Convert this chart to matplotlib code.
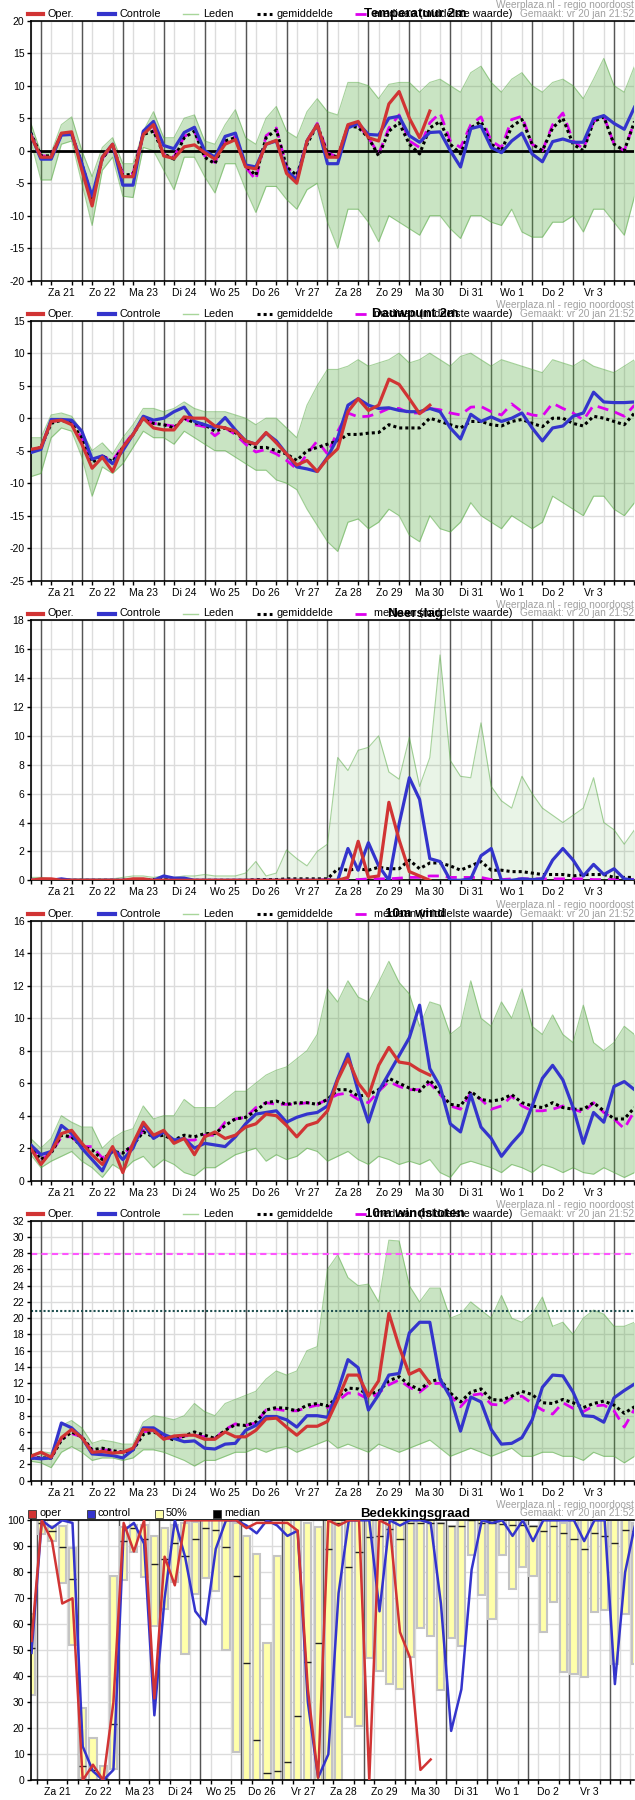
import numpy as np
import matplotlib
matplotlib.use("Agg")
import matplotlib.pyplot as plt
from matplotlib.lines import Line2D
from matplotlib.patches import Rectangle

plt.rcParams['font.family'] = ['Liberation Sans', 'DejaVu Sans']
plt.rcParams['axes.unicode_minus'] = False

W, H = 635, 1800

day_labels = ["Za 21", "Zo 22", "Ma 23", "Di 24", "Wo 25", "Do 26", "Vr 27",
              "Za 28", "Zo 29", "Ma 30", "Di 31", "Wo 1", "Do 2", "Vr 3"]

hours = np.arange(60) * 6          # 0 = vr 20 jan 18:00, step 6 uur
cloud_hours = np.arange(60) * 6 + 3

# --- Temperatuur 2m
temp_oper = [2.4, -1.0, -1.0, 2.7, 2.9, -3.0, -8.5, -1.0, 1.0, -4.0,
             -4.0, 2.5, 4.0, -0.8, -1.2, 0.6, 0.9, -0.3, -1.3, 1.0,
             1.7, -2.5, -2.8, 1.0, 1.6, -3.5, -5.0, 1.5, 4.0, -1.0,
             -1.0, 4.0, 4.5, 2.0, 1.5, 7.2, 9.1, 5.0, 2.0, 6.1]
temp_ctrl = [2.5, -1.3, -1.3, 2.4, 2.5, -2.0, -7.0, -1.0, 1.0, -5.3,
             -5.3, 3.0, 4.5, 0.8, 0.3, 2.8, 3.6, 0.0, -1.0, 2.2,
             2.7, -2.2, -2.5, 1.0, 1.5, -3.0, -4.5, 1.5, 4.0, -2.0,
             -2.0, 3.5, 4.2, 2.5, 2.4, 5.0, 5.3, 2.3, 1.3, 2.8,
             2.9, 0.0, -2.5, 3.4, 3.8, 0.5, -0.3, 1.5, 2.7, -0.5,
             -1.7, 1.4, 1.8, 1.3, 1.3, 4.9, 5.4, 4.2, 3.3, 6.7]
temp_mean = [2.8, -0.8, -0.8, 2.5, 2.5, -2.0, -7.5, -1.2, 0.8, -3.8,
             -3.6, 2.5, 3.0, -0.5, -1.3, 2.0, 3.0, -1.0, -2.0, 1.5,
             2.0, -2.3, -3.8, 2.0, 3.2, -2.5, -3.8, 1.0, 4.0, -0.5,
             -1.0, 3.8, 3.6, 2.0, -0.8, 3.0, 4.3, 1.0, -0.5, 3.5,
             4.5, 1.0, -0.5, 3.5, 4.5, 1.0, 0.0, 3.7, 4.8, 1.0,
             0.0, 3.5, 5.0, 1.0, 0.0, 4.5, 5.2, 1.0, 0.0, 4.5]
temp_med = [2.6, -0.8, -0.8, 2.6, 2.6, -2.0, -7.5, -1.2, 0.8, -3.5,
            -3.5, 2.8, 3.3, -0.5, -1.0, 2.2, 3.0, -0.8, -1.8, 1.5,
            2.2, -2.5, -4.5, 2.3, 3.5, -2.5, -4.0, 1.5, 4.2, -0.3,
            -1.0, 3.8, 4.0, 2.0, -0.5, 3.5, 5.5, 1.5, 0.5, 4.3,
            5.8, 1.5, 0.5, 4.0, 5.2, 1.5, 0.5, 4.8, 5.3, 1.0,
            0.0, 4.0, 5.8, 1.5, 0.3, 4.5, 5.3, 1.0, 0.0, 4.5]
temp_hi = [4.3, -0.3, -0.3, 4.0, 5.2, 0.0, -4.0, 0.5, 2.0, -2.0,
           -2.0, 3.0, 6.0, 2.0, 2.0, 5.0, 5.5, 1.5, 1.0, 4.0,
           6.3, 2.0, 1.0, 5.0, 6.8, 3.0, 2.0, 6.0, 8.0, 6.0,
           5.5, 10.5, 10.5, 10.0, 8.0, 10.2, 10.5, 10.5, 9.0, 10.5,
           11.0, 10.0, 9.0, 12.0, 13.0, 10.5, 9.0, 11.0, 12.0, 10.0,
           9.0, 10.5, 11.0, 10.0, 8.0, 11.0, 14.2, 10.0, 9.0, 13.0]
temp_lo = [1.5, -4.5, -4.5, 1.0, 1.5, -5.0, -11.5, -3.0, -1.0, -7.0,
           -7.2, 0.5, 0.0, -3.0, -6.0, -1.0, -1.0, -4.0, -6.5, -2.0,
           -2.0, -6.0, -9.5, -5.5, -5.5, -7.5, -9.0, -6.0, -5.0, -11.0,
           -15.0, -9.0, -9.0, -11.0, -14.0, -10.0, -11.0, -12.0, -13.0, -10.0,
           -10.0, -12.0, -13.5, -10.0, -10.0, -11.0, -11.5, -9.0, -12.5, -13.3,
           -13.3, -11.0, -11.0, -10.0, -12.5, -9.0, -9.0, -11.0, -13.0, -7.0]

# --- Dauwpunt 2m
dew_oper = [-4.8, -4.5, -0.5, -0.3, -1.0, -4.0, -7.7, -6.0, -8.2, -4.5,
            -2.5, 0.0, -1.5, -1.8, -1.8, 0.2, 0.0, 0.0, -1.2, -1.5,
            -2.0, -3.5, -4.0, -2.2, -3.8, -5.5, -7.2, -6.5, -8.2, -6.2,
            -4.7, 1.0, 3.0, 1.2, 2.0, 6.0, 5.2, 3.0, 0.7, 2.0]
dew_ctrl = [-5.3, -4.8, -0.2, -0.2, -0.3, -2.0, -6.3, -5.8, -7.0, -5.0,
            -2.5, 0.3, -0.3, 0.0, 1.0, 1.7, -0.5, -1.0, -1.5, 0.1,
            -1.8, -3.5, -4.0, -2.3, -3.5, -5.5, -7.5, -7.8, -8.2, -6.0,
            -3.0, 2.0, 3.0, 2.0, 1.5, 1.6, 1.2, 1.0, 1.0, 1.5,
            1.0, -1.5, -3.2, 0.6, -0.5, 0.2, -0.5, 0.0, 0.8, -1.5,
            -3.5, -1.5, -1.2, 0.3, 0.8, 4.0, 2.5, 2.4, 2.4, 2.5]
dew_mean = [-5.0, -4.5, -0.8, -0.3, -0.8, -3.0, -6.8, -5.8, -6.7, -4.5,
            -2.5, 0.0, -0.8, -1.0, -1.5, 0.0, -0.7, -1.0, -2.0, -1.5,
            -2.2, -3.5, -4.5, -4.5, -5.0, -5.5, -6.5, -5.0, -4.5, -4.0,
            -3.5, -2.5, -2.5, -2.3, -2.2, -1.0, -1.5, -1.5, -1.5, 0.0,
            -0.5, -1.0, -1.5, -0.5, -0.5, -1.0, -1.2, -0.5, -0.2, -0.8,
            -1.3, 0.0, 0.0, -0.8, -1.2, 0.3, 0.0, -0.5, -1.0, 0.8]
dew_med = [-5.0, -4.5, -0.5, -0.3, -0.8, -3.0, -6.5, -5.8, -6.5, -4.3,
           -2.3, 0.0, -0.8, -1.0, -1.2, 0.0, -1.0, -1.3, -2.7, -1.5,
           -2.5, -4.0, -5.2, -4.8, -5.5, -6.5, -7.8, -5.5, -3.5, -5.5,
           -2.0, 0.8, 0.2, 0.3, 0.8, 1.5, 1.5, 0.8, 0.8, 1.5,
           1.3, 0.8, 0.5, 1.7, 1.8, 1.0, 0.5, 2.2, 1.0, 0.5,
           0.3, 2.3, 1.5, 0.8, -0.3, 2.0, 1.5, 1.0, 0.3, 2.0]
dew_hi = [-3.0, -3.0, 0.5, 0.8, 0.3, -2.0, -5.0, -3.8, -5.5, -3.0,
          -1.0, 1.5, 1.5, 1.0, 1.5, 2.5, 1.5, 1.0, 1.0, 1.0,
          0.5, 0.0, -1.0, 0.0, 0.0, -1.5, -3.0, 2.0, 5.0, 7.5,
          7.5, 8.0, 9.0, 8.0, 8.5, 9.0, 10.0, 8.5, 9.0, 10.0,
          9.0, 8.0, 9.5, 10.0, 9.0, 8.0, 9.0, 8.5, 8.0, 7.5,
          7.0, 9.0, 8.5, 8.0, 9.0, 8.0, 7.5, 7.0, 8.0, 9.0]
dew_lo = [-9.0, -8.5, -3.0, -1.5, -2.0, -6.0, -12.0, -7.5, -8.5, -7.0,
          -4.5, -2.0, -3.0, -3.0, -4.0, -2.0, -3.0, -4.0, -5.0, -5.0,
          -6.0, -7.0, -8.0, -8.0, -9.5, -10.0, -11.0, -14.0, -16.5, -19.0,
          -20.5, -16.0, -15.5, -17.0, -16.0, -14.0, -15.0, -18.0, -19.0, -15.0,
          -17.0, -17.5, -16.0, -13.0, -15.0, -16.0, -17.0, -15.0, -16.0, -17.0,
          -16.0, -12.0, -13.0, -14.0, -15.0, -12.0, -12.0, -14.0, -15.0, -13.0]

# --- Neerslag
rain_oper = [0.0, 0.1, 0.1, 0.0, 0.0, 0.0, 0.0, 0.0, 0.0, 0.0,
             0.1, 0.1, 0.0, 0.0, 0.0, 0.0, 0.0, 0.0, 0.0, 0.0,
             0.0, 0.0, 0.0, 0.0, 0.0, 0.0, 0.0, 0.0, 0.0, 0.0,
             0.0, 0.2, 2.7, 0.2, 0.3, 5.4, 2.8, 0.6, 0.3, 0.0]
rain_ctrl = [0.0, 0.0, 0.0, 0.1, 0.0, 0.0, 0.0, 0.0, 0.0, 0.0,
             0.0, 0.0, 0.0, 0.3, 0.15, 0.15, 0.0, 0.0, 0.0, 0.0,
             0.0, 0.0, 0.0, 0.0, 0.0, 0.0, 0.0, 0.0, 0.0, 0.0,
             0.0, 2.2, 0.7, 2.6, 1.0, 0.0, 3.9, 7.1, 5.6, 1.5,
             1.3, 0.0, 0.0, 0.1, 1.7, 2.2, 0.0, 0.0, 0.1, 0.05,
             0.1, 1.4, 2.2, 1.4, 0.3, 1.1, 0.4, 0.8, 0.1, 0.0]
rain_mean = [0.0, 0.0, 0.0, 0.0, 0.0, 0.0, 0.0, 0.0, 0.0, 0.0,
             0.05, 0.05, 0.05, 0.05, 0.0, 0.0, 0.0, 0.0, 0.0, 0.0,
             0.0, 0.0, 0.05, 0.05, 0.05, 0.1, 0.1, 0.1, 0.1, 0.1,
             0.8, 0.7, 0.8, 0.7, 0.9, 0.8, 0.8, 1.4, 0.8, 1.2,
             1.2, 1.0, 0.7, 1.0, 1.3, 0.7, 0.7, 0.6, 0.6, 0.5,
             0.4, 0.4, 0.4, 0.3, 0.4, 0.4, 0.4, 0.2, 0.2, 0.2]
rain_med = [0.0, 0.0, 0.0, 0.0, 0.0, 0.0, 0.0, 0.0, 0.0, 0.0,
            0.0, 0.0, 0.0, 0.0, 0.0, 0.0, 0.0, 0.0, 0.0, 0.0,
            0.0, 0.0, 0.0, 0.0, 0.0, 0.0, 0.0, 0.0, 0.02, 0.05,
            0.05, 0.05, 0.05, 0.1, 0.1, 0.1, 0.15, 0.2, 0.2, 0.3,
            0.3, 0.2, 0.2, 0.2, 0.2, 0.05, 0.05, 0.1, 0.1, 0.1,
            0.1, 0.1, 0.1, 0.1, 0.1, 0.05, 0.05, 0.05, 0.05, 0.05]
rain_hi = [0.2, 0.2, 0.1, 0.1, 0.1, 0.1, 0.1, 0.1, 0.1, 0.2,
           0.3, 0.3, 0.2, 0.3, 0.2, 0.3, 0.3, 0.4, 0.3, 0.3,
           0.3, 0.5, 1.3, 0.3, 0.5, 2.1, 1.5, 1.0, 2.0, 2.5,
           8.5, 7.6, 9.0, 9.2, 10.0, 7.5, 7.0, 9.9, 6.5, 8.5,
           15.6, 8.3, 7.2, 7.1, 10.9, 6.5, 5.5, 5.0, 7.2, 6.0,
           5.0, 4.5, 4.0, 4.5, 5.0, 7.1, 4.0, 3.5, 2.5, 3.5]
rain_lo = [0.0] * 60

# --- 10m wind
wind_oper = [2.0, 1.0, 1.8, 2.9, 3.1, 2.3, 1.6, 1.0, 2.1, 0.5,
             2.3, 3.6, 2.8, 3.1, 2.3, 2.6, 1.6, 2.7, 3.0, 2.6,
             2.8, 3.3, 3.5, 4.1, 4.0, 3.4, 2.7, 3.4, 3.6, 4.3,
             6.2, 7.5, 6.0, 5.2, 7.1, 8.2, 7.3, 7.2, 6.8, 6.5]
wind_ctrl = [2.2, 1.6, 1.8, 3.4, 2.9, 2.0, 1.3, 0.6, 2.0, 1.3,
             2.0, 3.5, 2.6, 3.0, 2.5, 2.6, 2.0, 2.3, 2.2, 2.1,
             2.7, 3.5, 4.1, 4.2, 4.3, 3.6, 3.9, 4.1, 4.2, 4.6,
             6.3, 7.8, 5.5, 3.6, 5.5, 6.6, 7.7, 8.8, 10.8, 6.9,
             5.8, 3.5, 3.0, 5.3, 3.3, 2.6, 1.5, 2.3, 3.0, 4.6,
             6.3, 7.1, 6.2, 4.5, 2.3, 4.2, 3.6, 5.8, 6.1, 5.6]
wind_mean = [2.2, 1.3, 1.7, 2.8, 2.7, 2.1, 1.9, 1.3, 1.8, 1.7,
             2.2, 3.0, 2.7, 2.8, 2.5, 2.8, 2.7, 2.9, 2.9, 3.4,
             3.8, 3.9, 4.3, 4.8, 4.9, 4.7, 4.8, 4.8, 4.7, 5.0,
             5.6, 5.6, 5.2, 5.3, 5.6, 6.3, 6.0, 5.7, 5.5, 6.2,
             5.4, 4.7, 4.6, 5.5, 5.0, 4.9, 5.0, 5.3, 4.8, 4.6,
             4.5, 4.8, 4.5, 4.4, 4.4, 4.8, 4.3, 3.8, 3.8, 4.5]
wind_med = [2.2, 1.3, 1.7, 2.7, 2.7, 2.1, 2.1, 1.4, 1.8, 1.6,
            2.2, 3.1, 2.8, 2.8, 2.5, 2.5, 2.5, 2.8, 2.8, 3.6,
            3.8, 3.9, 4.5, 4.8, 4.7, 4.7, 4.7, 4.8, 4.7, 5.0,
            5.3, 5.4, 5.0, 4.8, 5.5, 6.1, 5.8, 5.6, 5.6, 6.0,
            5.3, 4.6, 4.4, 5.4, 5.0, 4.4, 4.6, 5.2, 4.6, 4.3,
            4.3, 4.4, 4.6, 4.4, 4.2, 4.8, 4.2, 3.8, 3.2, 4.3]
wind_hi = [2.6, 2.0, 2.6, 4.0, 3.6, 3.3, 3.3, 2.0, 2.6, 3.0,
           3.2, 4.6, 3.8, 4.0, 4.0, 5.0, 4.5, 4.5, 4.5, 5.0,
           5.5, 5.5, 6.0, 6.5, 6.8, 7.0, 7.5, 8.0, 9.0, 11.8,
           11.0, 12.3, 11.3, 11.0, 12.2, 13.5, 12.2, 11.5, 9.5, 11.0,
           10.8, 9.0, 9.5, 12.3, 10.0, 9.5, 11.0, 10.0, 11.8, 9.5,
           9.0, 10.2, 9.0, 8.5, 10.8, 8.5, 8.0, 8.5, 9.5, 9.0]
wind_lo = [1.6, 0.8, 1.2, 1.5, 1.8, 1.2, 0.8, 0.2, 1.0, 0.6,
           1.2, 1.5, 0.8, 1.3, 1.0, 0.5, 0.3, 0.8, 0.8, 1.2,
           1.6, 1.8, 2.0, 1.2, 1.6, 1.3, 1.5, 2.0, 1.8, 1.2,
           1.5, 1.8, 1.3, 1.0, 1.5, 1.3, 1.0, 1.2, 1.0, 1.3,
           0.5, 0.2, 1.0, 1.2, 1.0, 0.8, 0.5, 1.0, 0.8, 0.5,
           1.0, 0.8, 0.5, 0.8, 0.5, 0.4, 0.8, 0.5, 0.2, 0.5]

# --- 10m windstoten
gust_oper = [3.0, 3.5, 2.9, 5.3, 6.3, 5.3, 3.5, 3.6, 3.4, 3.5,
             4.0, 6.3, 6.2, 5.1, 5.5, 5.6, 5.6, 5.1, 5.1, 6.0,
             5.4, 5.4, 6.2, 7.6, 7.7, 6.6, 5.6, 6.7, 6.7, 7.3,
             10.0, 13.0, 13.0, 10.4, 12.3, 20.6, 16.5, 13.1, 13.7, 12.0]
gust_ctrl = [2.8, 2.7, 2.8, 7.1, 6.5, 5.3, 3.3, 3.2, 3.1, 2.8,
             3.8, 6.5, 6.5, 5.7, 5.2, 4.8, 4.9, 4.0, 3.9, 4.5,
             4.6, 6.2, 6.8, 7.9, 7.9, 7.5, 6.6, 8.0, 8.0, 7.8,
             11.0, 14.9, 13.9, 8.7, 10.6, 13.0, 13.2, 18.2, 19.5, 19.5,
             12.5, 10.3, 6.1, 10.3, 9.7, 6.3, 4.5, 4.6, 5.3, 7.5,
             11.5, 13.0, 12.9, 10.9, 8.0, 7.9, 7.2, 10.2, 11.1, 11.9]
gust_mean = [2.8, 2.8, 2.8, 5.0, 6.0, 5.4, 3.8, 4.0, 3.7, 3.5,
             3.8, 5.7, 6.0, 5.5, 5.0, 5.5, 6.0, 5.6, 5.2, 6.2,
             6.9, 6.8, 7.2, 8.7, 9.0, 8.9, 8.6, 9.3, 9.5, 9.2,
             10.3, 11.4, 11.3, 10.6, 11.0, 12.3, 12.8, 11.8, 11.2, 12.2,
             12.5, 10.8, 9.7, 10.9, 11.3, 10.0, 9.9, 10.4, 11.0, 10.6,
             9.6, 9.5, 10.0, 9.6, 9.0, 9.5, 9.8, 9.3, 8.3, 9.1]
gust_med = [2.8, 2.8, 2.8, 5.2, 5.8, 5.4, 3.7, 3.8, 3.7, 3.5,
            3.8, 6.0, 6.2, 5.3, 5.1, 5.5, 5.6, 5.4, 5.2, 6.3,
            7.0, 6.8, 7.1, 8.7, 8.8, 8.6, 8.6, 9.0, 9.3, 9.0,
            9.8, 10.8, 10.7, 10.0, 10.8, 11.8, 12.4, 11.5, 10.9, 11.9,
            12.0, 10.5, 9.1, 10.5, 10.7, 9.4, 9.3, 10.2, 10.4, 9.5,
            8.7, 8.2, 9.6, 8.9, 8.5, 9.2, 9.3, 8.6, 6.6, 8.8]
gust_hi = [3.2, 3.6, 3.4, 6.8, 7.4, 6.5, 4.6, 5.0, 4.8, 4.5,
           4.5, 7.2, 8.0, 7.8, 7.5, 8.0, 9.5, 8.5, 8.0, 9.5,
           10.0, 10.5, 11.0, 12.5, 13.5, 13.0, 13.5, 16.0, 16.5, 26.0,
           27.8, 25.0, 24.0, 24.2, 22.0, 29.6, 29.5, 24.0, 22.0, 23.7,
           23.7, 20.0, 20.5, 22.0, 21.0, 20.0, 22.8, 20.0, 19.5, 20.5,
           22.6, 19.0, 19.5, 18.0, 20.0, 21.0, 20.5, 19.0, 19.0, 19.5]
gust_lo = [2.4, 2.2, 1.6, 3.5, 4.2, 3.5, 2.5, 2.8, 2.8, 2.5,
           2.8, 3.8, 3.8, 3.5, 3.0, 2.5, 1.8, 2.5, 2.5, 3.0,
           3.5, 3.5, 4.0, 3.5, 4.0, 4.2, 3.5, 4.0, 4.5, 5.0,
           4.0, 4.5, 4.0, 3.5, 4.5, 4.0, 3.5, 4.0, 4.5, 5.0,
           4.0, 3.0, 3.5, 4.0, 3.5, 3.0, 3.5, 4.0, 3.0, 3.0,
           3.5, 3.5, 3.0, 3.0, 2.5, 3.5, 3.0, 3.0, 2.2, 3.0]
gust_warn_median = 27.9
gust_warn_mean = 20.85

# --- Bedekkingsgraad
cloud_top = [64, 100, 98, 98, 89.2, 27.7, 16.2, 5.5, 78.5, 97.4,
             98.2, 98.2, 93.8, 97, 98.2, 99, 99.5, 100, 100, 100,
             98.8, 93.8, 86.9, 53, 86.2, 100, 100, 98.8, 97.3, 100,
             100, 100, 100, 100, 100, 100, 100, 100, 100, 100,
             99, 98, 100, 100, 100, 100, 100, 100, 100, 98,
             100, 100, 99, 100, 100, 100, 100, 100, 100, 99]
cloud_bot = [33, 94.6, 92, 75.8, 52, 0.8, 0, 0, 4.4, 77,
             87.7, 78.2, 59.5, 65.8, 76.4, 48.5, 71.8, 77.7, 73, 50.3,
             10.8, 0, 0, 0, 0, 0, 0, 0, 0, 0,
             0, 24.4, 21, 47.2, 42, 37, 35, 47.6, 58.5, 55.4,
             34.7, 54.6, 51.5, 86.7, 71.3, 62, 86.7, 73.6, 82.2, 78.5,
             57, 68.5, 41.8, 41, 39.6, 64.6, 65.4, 44.6, 64, 44.7]
cloud_med = [51, 99, 96, 89.6, 77.3, 5.5, 4, 1, 21.5, 92,
             97, 93, 83.3, 85, 91.2, 86.2, 93, 97, 96.2, 89.6,
             78.5, 45, 15.4, 3, 3.5, 7, 24.6, 45.4, 53, 89,
             99, 82, 88, 93.6, 94, 96.7, 92.7, 99, 99, 99,
             99, 98, 98, 100, 99, 99, 98.7, 98.2, 98.2, 98,
             96, 98, 95, 93, 88.8, 95, 94, 91.2, 96.3, 96]
cloud_oper = [53.6, 100, 92, 68, 70, 0, 6, 0, 30, 99,
              88, 100, 31.5, 86, 75, 100, 100, 100, 100, 100,
              100, 97, 99, 99, 99, 99, 96, 35, 1, 100,
              98, 100, 100, 0, 100, 98, 57, 47, 4, 8]
cloud_ctrl = [49, 100, 97, 100, 99, 13, 3.5, 0, 4, 96,
              99, 91, 25, 70, 100, 86, 65, 60, 89, 100,
              100, 98, 95, 100, 98, 94, 96, 30, 1, 10,
              72, 100, 100, 100, 65, 100, 98, 100, 100, 99,
              68, 19, 35, 81, 100, 99, 100, 94, 100, 92,
              100, 100, 100, 100, 92, 100, 100, 37, 80, 99]

RED = '#d13434'
BLUE = '#3434cc'
GREEN = '#4fa63a'
MAGENTA = '#dd00ee'
GRID = '#dcdcdc'
DAYLINE = '#555555'

fig = plt.figure(figsize=(W / 100, H / 100), dpi=100)


def fx(x):
    return x / W


def fy(y):
    return 1 - y / H


AX_LEFT = 30.7
AX_RIGHT = 634.5
AX_H = 260


def make_axes(top):
    ax = fig.add_axes([fx(AX_LEFT), fy(top + AX_H), (AX_RIGHT - AX_LEFT) / W, AX_H / H])
    ax.set_axisbelow(True)
    ax.spines['right'].set_visible(False)
    for s in ['left', 'bottom', 'top']:
        ax.spines[s].set_linewidth(1.2)
    ax.tick_params(axis='y', length=3, width=1, pad=1.5, labelsize=7.5)
    ax.tick_params(axis='x', which='major', length=0, pad=5, labelsize=7.5)
    ax.tick_params(axis='x', which='minor', length=3, width=1)
    ax.set_xticks(np.arange(0, 360, 6), minor=True)
    ax.set_xticks(18 + 24 * np.arange(14))
    ax.set_xticklabels(day_labels)
    ax.grid(which='minor', axis='x', color=GRID, lw=1)
    ax.grid(which='major', axis='y', color=GRID, lw=1)
    for d in 6 + 24 * np.arange(15):
        ax.axvline(d, color=DAYLINE, lw=1, zorder=1.5)
    return ax


def header(top, title, cloud=False):
    yl = top - 6.8
    fig.text(fx(634), fy(top - 15.8), "Weerplaza.nl - regio noordoost", ha='right', va='center',
             fontsize=7.3, color='#a0a0a0')
    fig.text(fx(634), fy(yl), "Gemaakt: vr 20 jan 21:52", ha='right', va='center',
             fontsize=7.3, color='#a0a0a0')
    if not cloud:
        items = [
            (28.3, 43.3, dict(color=RED, lw=3), "Oper.", 47.7),
            (99, 115, dict(color=BLUE, lw=3), "Controle", 119),
            (183, 198, dict(color='#a8d69a', lw=1), "Leden", 203),
            (257, 272, dict(color='black', lw=2.2, linestyle=(0, (1, 1))), "gemiddelde", 276.5),
            (355, 371, dict(color=MAGENTA, lw=2, linestyle=(0, (4, 2.5))), "mediaan (middelste waarde)", 374.5),
        ]
        for x0, x1, st, label, xt in items:
            fig.add_artist(Line2D([fx(x0), fx(x1)], [fy(yl), fy(yl)], transform=fig.transFigure, **st))
            fig.text(fx(xt), fy(yl), label, ha='left', va='center', fontsize=7.8)
    else:
        items = [(28, RED, "oper", 39), (87, BLUE, "control", 97.6),
                 (155, '#ffffaa', "50%", 166), (213, 'black', "median", 224)]
        for x0, col, label, xt in items:
            fig.add_artist(Rectangle((fx(x0), fy(yl + 4)), 8 / W, 8 / H, transform=fig.transFigure,
                                     facecolor=col, edgecolor='#333333', lw=0.6))
            fig.text(fx(xt), fy(yl), label, ha='left', va='center', fontsize=7.8)
    fig.text(fx(415), fy(yl), title, ha='center', va='center', fontsize=9.5, fontweight='bold')


def ensemble_panel(top, title, ylim, step, oper, ctrl, mean, med, lo, hi, fill_alpha=0.3):
    ax = make_axes(top)
    ax.set_xlim(0, 354)
    ax.set_ylim(*ylim)
    ax.set_yticks(np.arange(ylim[0], ylim[1] + 0.1, step))
    ax.fill_between(hours, lo, hi, color=GREEN, alpha=fill_alpha, lw=0, zorder=2)
    ax.plot(hours, hi, color=GREEN, lw=0.8, alpha=0.5, zorder=2)
    ax.plot(hours, lo, color=GREEN, lw=0.8, alpha=0.5, zorder=2)
    ax.plot(hours, med, color=MAGENTA, lw=2, linestyle=(0, (4, 2.5)), zorder=3)
    ax.plot(hours, mean, color='black', lw=2.2, linestyle=(0, (1, 1)), zorder=3.2)
    ax.plot(hours, ctrl, color=BLUE, lw=2.3, zorder=4)
    ax.plot(hours[:len(oper)], oper, color=RED, lw=2.3, zorder=5)
    header(top, title)
    return ax


ax1 = ensemble_panel(20.7, "Temperatuur 2m", (-20, 20), 5, temp_oper, temp_ctrl, temp_mean, temp_med,
                     temp_lo, temp_hi)
ax1.axhline(0, color='black', lw=2, zorder=2.5)
ensemble_panel(320.7, "Dauwpunt 2m", (-25, 15), 5, dew_oper, dew_ctrl, dew_mean, dew_med, dew_lo, dew_hi)
ensemble_panel(620.3, "Neerslag", (0, 18), 2, rain_oper, rain_ctrl, rain_mean, rain_med, rain_lo, rain_hi,
               fill_alpha=0.12)
ensemble_panel(920.7, "10m wind", (0, 16), 2, wind_oper, wind_ctrl, wind_mean, wind_med, wind_lo, wind_hi)
ax5 = ensemble_panel(1220.7, "10m windstoten", (0, 32), 2, gust_oper, gust_ctrl, gust_mean, gust_med,
                     gust_lo, gust_hi)
ax5.axhline(gust_warn_median, color='#ff55ff', lw=1.5, linestyle=(0, (3, 2)), zorder=2.5)
ax5.axhline(gust_warn_mean, color='#1f5050', lw=1.5, linestyle=(0, (1, 1)), zorder=2.5)

# --- Bedekkingsgraad
top6 = 1520.3
ax6 = make_axes(top6)
ax6.set_xlim(2.5, 356.5)
ax6.set_ylim(0, 100)
ax6.set_yticks(np.arange(0, 101, 10))
ct = np.array(cloud_top)
cb = np.array(cloud_bot)
ax6.bar(cloud_hours, ct - cb, bottom=cb, width=4.2, color='#ffffaa', edgecolor='#c4c4c4', lw=1.5, zorder=2)
ax6.hlines(cloud_med, cloud_hours - 2.1, cloud_hours + 2.1, color='#222222', lw=1, zorder=2.5)
ax6.plot(cloud_hours, cloud_ctrl, color=BLUE, lw=1.8, zorder=4)
ax6.plot(cloud_hours[:len(cloud_oper)], cloud_oper, color=RED, lw=1.8, zorder=5)
header(top6, "Bedekkingsgraad", cloud=True)

fig.savefig("out.png", dpi=100)
